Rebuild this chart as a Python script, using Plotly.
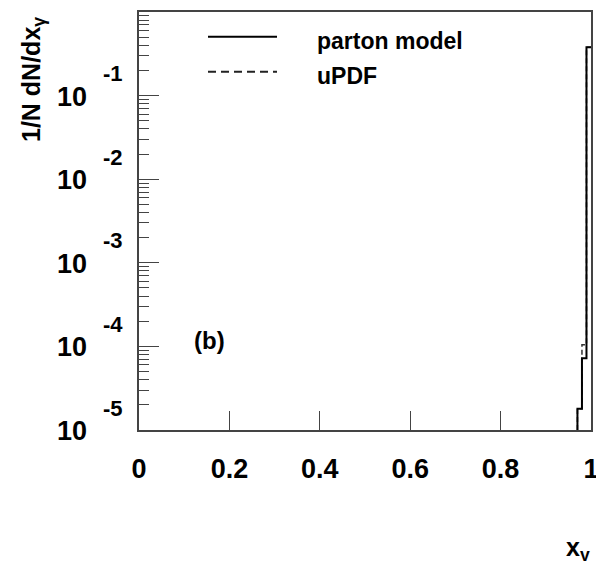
import numpy as np
import plotly.graph_objects as go

# ---- data ----
bin_edges = [0.96, 0.97, 0.98, 0.99, 1.00]
parton_model = [1e-6, 1.8e-5, 7.2e-5, 0.378]
updf = [1e-6, 1.8e-5, 1.05e-4, 0.378]

x_ticks = [0, 0.2, 0.4, 0.6, 0.8, 1]
x_ticktext = ["0", "0.2", "0.4", "0.6", "0.8", "1"]
y_major = [1e-5, 1e-4, 1e-3, 1e-2, 1e-1, 1e0]
y_labels = [(1e-1, "-1"), (1e-2, "-2"), (1e-3, "-3"), (1e-4, "-4"), (1e-5, "-5")]
y_minor = [k * 10.0 ** e for e in range(-5, 0) for k in range(2, 10)]

FONT = "Liberation Sans, Arial, Helvetica, sans-serif"
W, H = 596, 561
L, R, T, B = 139, 5, 12, 131
PW, PH = W - L - R, H - T - B


def px(xp):
    return (xp - L) / PW


def py(yp):
    return (H - B - yp) / PH


fig = go.Figure()

fig.add_trace(go.Scatter(
    x=bin_edges, y=updf + [updf[-1]], mode="lines", line_shape="hv",
    line=dict(color="#333333", width=1.5, dash="5px,3px"), name="uPDF",
    showlegend=False))
fig.add_trace(go.Scatter(
    x=bin_edges, y=parton_model + [parton_model[-1]], mode="lines", line_shape="hv",
    line=dict(color="black", width=2), name="parton model", showlegend=False))

fig.update_xaxes(
    range=[0, 1], tickvals=x_ticks, ticktext=x_ticktext,
    ticks="inside", ticklen=19, tickwidth=1, tickcolor="#444",
    showline=True, linecolor="#444", linewidth=2, mirror=True,
    showgrid=False, zeroline=False, ticklabelstandoff=14,
    ticklabeloverflow="allow",
    tickfont=dict(family=FONT, size=27, color="black", weight="bold"))
fig.update_yaxes(
    type="log", range=[-5, 0], tickvals=y_major, ticks="inside", ticklen=20,
    tickwidth=1, tickcolor="#444", showticklabels=False,
    minor=dict(tickvals=y_minor, ticks="inside", ticklen=10, tickwidth=1, tickcolor="#444"),
    showline=True, linecolor="#444", linewidth=2, mirror=True,
    showgrid=False, zeroline=False)

ann = []
for val, ex in y_labels:
    ann.append(dict(x=0, y=np.log10(val), xref="x", yref="y", text="<b>10</b>",
                    xanchor="right", yanchor="middle", xshift=-50, yshift=-1,
                    showarrow=False, font=dict(family=FONT, size=27, color="black")))
    ann.append(dict(x=0, y=np.log10(val), xref="x", yref="y", text="<b>%s</b>" % ex,
                    xanchor="left", yanchor="middle", xshift=-38, yshift=22,
                    showarrow=False, font=dict(family=FONT, size=22, color="black")))

ann.append(dict(x=px(33), y=py(80), xref="paper", yref="paper",
                text="<b>1/N dN/dx<sub>γ</sub></b>", textangle=-90,
                xanchor="center", yanchor="middle", showarrow=False,
                font=dict(family=FONT, size=25, color="black")))
ann.append(dict(x=px(578), y=py(549), xref="paper", yref="paper",
                text="<b>x<sub>γ</sub></b>", xanchor="center", yanchor="middle",
                showarrow=False, font=dict(family=FONT, size=25, color="black")))
ann.append(dict(x=px(209), y=py(340), xref="paper", yref="paper",
                text="<b>(b)</b>", xanchor="center", yanchor="middle",
                showarrow=False, font=dict(family=FONT, size=24, color="black")))
ann.append(dict(x=px(315), y=py(41), xref="paper", yref="paper",
                text="<b>parton model</b>", xanchor="left", yanchor="middle",
                showarrow=False, font=dict(family=FONT, size=23, color="black")))
ann.append(dict(x=px(315), y=py(76), xref="paper", yref="paper",
                text="<b>uPDF</b>", xanchor="left", yanchor="middle",
                showarrow=False, font=dict(family=FONT, size=23, color="black")))

shapes = [
    dict(type="line", xref="paper", yref="paper", x0=px(208), x1=px(277),
         y0=py(36.7), y1=py(36.7), line=dict(color="black", width=2)),
    dict(type="line", xref="paper", yref="paper", x0=px(208), x1=px(277),
         y0=py(71.7), y1=py(71.7), line=dict(color="#222222", width=2, dash="8px,5px")),
]

fig.update_layout(
    width=W, height=H, margin=dict(l=L, r=R, t=T, b=B, autoexpand=False),
    paper_bgcolor="white", plot_bgcolor="white",
    annotations=ann, shapes=shapes, showlegend=False)

fig.write_html("out.html")
